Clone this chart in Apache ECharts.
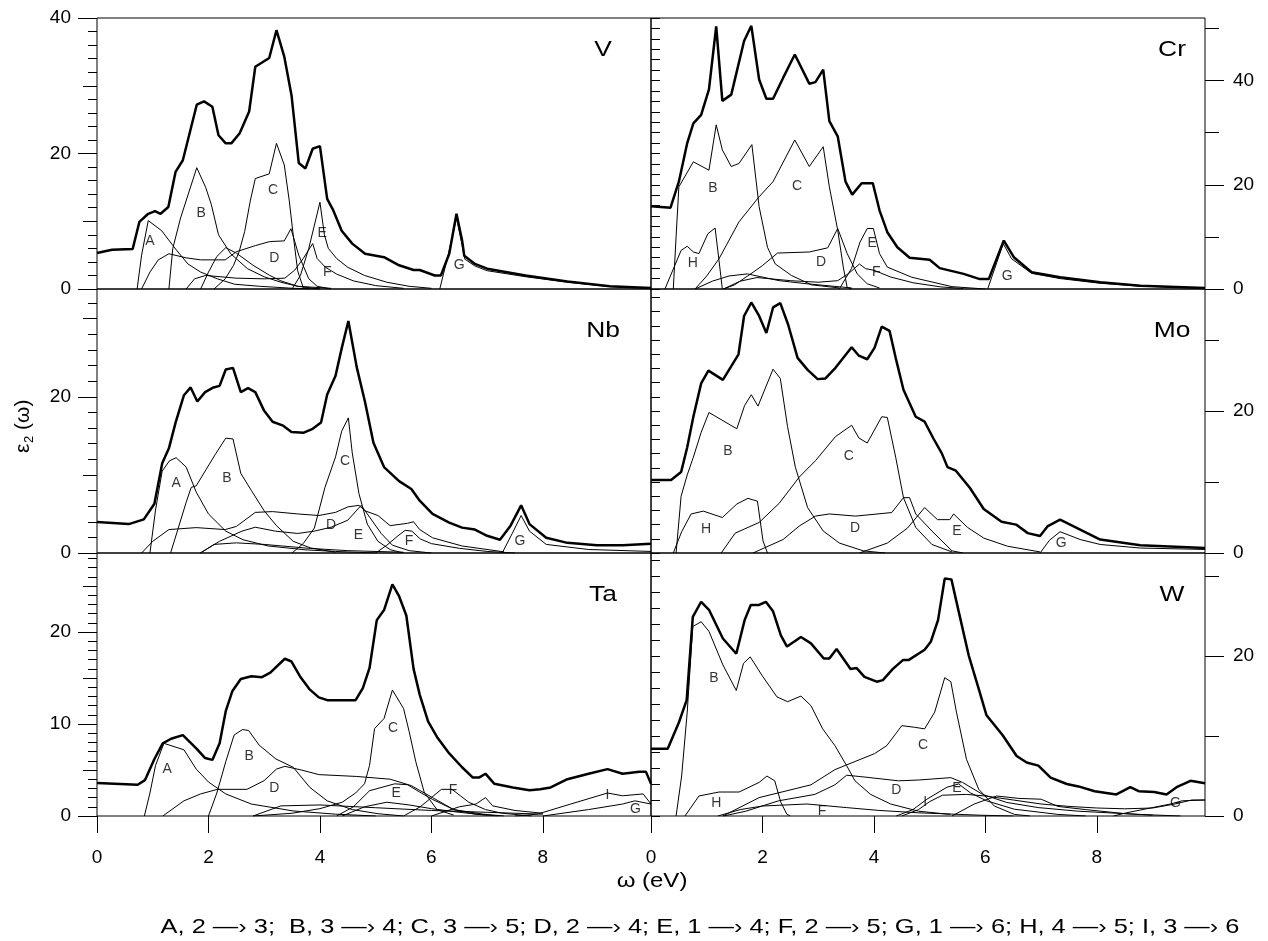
<!DOCTYPE html>
<html>
<head>
<meta charset="utf-8">
<script src="https://cdn.jsdelivr.net/npm/echarts@6/dist/echarts.min.js"></script>
<style>
html, body { margin: 0; background: #fff; }
#main { width: 1268px; height: 941px; }
</style>
</head>
<body>
<div id="main"></div>
<script>
// ---- V ----
const vTotal = [[0,5.3],[0.27,5.8],[0.64,5.9],[0.76,9.9],[0.92,11.1],[1.04,11.5],[1.14,11.1],[1.28,12.1],[1.41,17.3],[1.54,19.0],[1.79,27.2],[1.92,27.7],[2.07,26.9],[2.18,22.7],[2.31,21.5],[2.41,21.5],[2.56,23.0],[2.73,26.2],[2.84,32.8],[3.09,34.1],[3.22,38.2],[3.36,34.3],[3.49,28.6],[3.62,18.6],[3.74,17.8],[3.87,20.7],[4.0,21.1],[4.13,13.3],[4.24,11.6],[4.39,8.6],[4.58,6.7],[4.81,5.2],[5.15,4.7],[5.42,3.5],[5.68,2.8],[5.79,2.8],[6.06,2.0],[6.17,2.0],[6.32,5.2],[6.45,11.1],[6.55,7.2],[6.59,4.9],[6.78,3.7],[7.0,3.0],[7.69,2.0],[8.44,1.1],[9.2,0.4],[9.94,0.15]];
const vA = [[0.72,0],[0.8,5],[0.92,10.1],[1.16,8.6],[1.41,5.9],[1.63,3.7],[1.86,2.5],[2.16,1.5],[2.47,0.7],[2.92,0.4],[3.52,0.1],[4.0,0]];
const vB = [[1.29,0],[1.36,6],[1.5,10.5],[1.79,17.9],[1.95,15],[2.05,12.5],[2.18,8],[2.4,5.2],[2.7,3],[3.0,1.8],[3.3,1.0],[3.6,0.4],[4.2,0.1]];
const vC = [[2.1,0],[2.3,1.5],[2.45,3.5],[2.55,5.5],[2.65,8.5],[2.75,13],[2.84,16.3],[3.09,17],[3.22,21.5],[3.36,18.3],[3.45,13],[3.52,8],[3.6,2.7],[3.7,0.2],[3.8,0]];
const vD = [[0.8,0],[0.95,2.5],[1.1,4.3],[1.29,5.2],[1.6,4.6],[1.86,4.3],[2.3,4.3],[2.5,5.5],[2.84,6.4],[3.1,7.0],[3.36,7.1],[3.48,8.9],[3.62,5.0],[3.8,1.5],[3.95,0.4],[4.2,0]];
const vD2 = [[1.86,0],[2.0,2.5],[2.15,4.8],[2.31,6.1],[2.5,5.3],[2.8,3.5],[3.1,2.0],[3.3,1.2],[3.6,0.4],[4.0,0]];
const vE = [[3.5,0],[3.65,2],[3.8,6],[4.0,12.8],[4.08,8],[4.15,6],[4.3,4.5],[4.5,3.2],[4.8,2],[5.2,1],[5.6,0.4],[6.0,0.1]];
const vF = [[1.6,0],[1.75,1.5],[1.95,2.0],[2.5,1.6],[3.0,1.5],[3.37,1.6],[3.55,2.8],[3.7,4.5],[3.87,6.7],[3.95,4.5],[4.1,3.2],[4.3,2.2],[4.6,1.2],[5.0,0.5],[5.5,0.1]];
const vG = [[6.15,0],[6.3,5],[6.45,10.5],[6.55,6.5],[6.6,4.4],[6.78,3.4],[7.0,2.7],[7.7,1.8],[8.44,1.0],[9.2,0.35],[9.94,0.1]];
const vLabels = [['A',0.95,7.1],['B',1.87,11.2],['C',3.16,14.6],['D',3.18,4.6],['E',4.04,8.3],['F',4.13,2.5],['G',6.5,3.5]];

// ---- Cr ----
const crTotal = [[0,15.9],[0.35,15.6],[0.5,20.6],[0.65,28],[0.76,31.8],[0.9,33.4],[1.04,38.3],[1.17,50.4],[1.28,36.1],[1.44,37.3],[1.67,47.6],[1.8,50.5],[1.94,40.2],[2.07,36.5],[2.19,36.5],[2.37,40.5],[2.58,45],[2.84,39.4],[2.95,39.7],[3.09,42.1],[3.2,32.2],[3.35,29.3],[3.49,20.6],[3.61,18.1],[3.78,20.3],[3.98,20.3],[4.1,15.1],[4.24,10.9],[4.42,8.0],[4.64,6.0],[5.0,5.6],[5.18,4.0],[5.61,2.9],[5.9,1.9],[6.06,1.9],[6.33,9.3],[6.51,6.1],[6.83,3.2],[7.34,2.25],[8.06,1.3],[8.78,0.64],[9.94,0.2]];
const crB = [[0.4,0],[0.45,10],[0.5,19.6],[0.76,24.4],[1.04,22.8],[1.17,31.5],[1.28,26.7],[1.44,23.5],[1.58,24.1],[1.81,27.7],[1.94,15.8],[2.09,8.0],[2.23,4.8],[2.52,2.6],[2.88,0.8],[3.38,0.2]];
const crH = [[0.25,0],[0.54,7.4],[0.65,8.2],[0.76,7.1],[0.86,6.8],[1.02,10.6],[1.15,11.7],[1.22,5.5],[1.28,0]];
const crC = [[0.79,0],[1.0,2.5],[1.22,5.8],[1.58,12.9],[1.94,17.7],[2.19,20.6],[2.58,28.6],[2.84,23.5],[3.09,27.3],[3.2,19.6],[3.35,11.3],[3.45,4.2],[3.52,0.3],[3.6,0]];
const crD = [[1.3,0],[1.5,0.8],[1.83,3.2],[2.0,4.5],[2.27,6.9],[2.84,7.1],[3.17,7.9],[3.35,11.6],[3.52,6.8],[3.7,2.9],[3.88,1.0],[4.1,0.2]];
const crD2 = [[0.79,0],[1.1,1.5],[1.4,2.5],[1.73,2.9],[2.3,1.6],[2.8,1.0],[3.3,0.5],[3.6,0.2]];
const crE = [[3.38,0],[3.6,4],[3.75,9],[3.88,11.6],[3.99,11.6],[4.1,6.8],[4.24,4.2],[4.68,2.25],[5.4,0.45],[6.0,0]];
const crF = [[1.3,0],[1.6,1.5],[1.9,2.2],[2.5,1.6],[3.0,1.3],[3.35,1.6],[3.55,3],[3.74,4.8],[3.85,3.9],[4.0,3.6],[4.3,2.3],[4.7,1.2],[5.2,0.4],[5.6,0.1]];
const crG = [[6.04,0],[6.32,8.7],[6.47,5.8],[6.83,3.0],[7.34,2.0],[8.06,1.1],[8.78,0.55],[9.94,0.15]];
const crLabels = [['B',1.11,19.4],['C',2.62,19.8],['H',0.75,5.0],['D',3.05,5.2],['E',3.97,8.8],['F',4.04,3.3],['G',6.39,2.5]];

// ---- Nb ----
const nbTotal = [[0,3.98],[0.57,3.7],[0.84,4.3],[1.03,6.3],[1.17,11.5],[1.29,13.4],[1.41,16.7],[1.56,20.2],[1.68,21.2],[1.8,19.4],[1.94,20.6],[2.09,21.2],[2.2,21.4],[2.31,23.5],[2.44,23.7],[2.58,20.6],[2.71,21.1],[2.84,20.6],[3.0,18.2],[3.15,16.8],[3.34,16.3],[3.49,15.5],[3.71,15.4],[3.87,15.9],[4.02,16.7],[4.13,20.3],[4.28,22.7],[4.39,26.2],[4.51,29.7],[4.66,23.8],[4.81,19.3],[4.96,14.1],[5.15,11.0],[5.42,9.2],[5.64,8.2],[5.79,6.7],[6.02,5.0],[6.32,3.9],[6.55,3.25],[6.78,3.0],[7.0,2.2],[7.23,1.7],[7.42,3.5],[7.61,6.1],[7.76,3.7],[8.06,1.95],[8.44,1.3],[8.97,1.0],[9.43,1.0],[9.94,1.17]];
const nbA = [[0.95,0],[1.05,5.5],[1.17,10.5],[1.3,11.8],[1.42,12.2],[1.6,11.0],[1.78,7.8],[2.0,5.0],[2.31,2.8],[2.62,1.7],[3.07,0.9],[3.75,0.4],[4.28,0.2],[5,0]];
const nbB = [[1.32,0],[1.45,3],[1.6,6.5],[1.69,8.4],[1.78,8.6],[2.12,12.6],[2.31,14.7],[2.44,14.6],[2.58,10.2],[2.77,8.0],[3.0,5.4],[3.22,3.5],[3.52,1.5],[3.83,0.65],[4.28,0.1]];
const nbC = [[3.5,0],[3.7,1.2],[3.9,3.2],[4.09,8.4],[4.28,12.3],[4.39,15.6],[4.51,17.3],[4.58,12.8],[4.7,7.6],[4.85,3.7],[5.04,1.5],[5.26,0.43],[5.5,0]];
const nbD = [[0.8,0],[1.0,1.5],[1.29,3.0],[1.78,3.25],[2.3,3.0],[2.5,3.4],[2.84,5.2],[3.15,5.3],[3.6,5.0],[3.98,4.8],[4.28,5.2],[4.5,5.9],[4.7,6.1],[4.81,5.4],[5.04,4.8],[5.26,3.5],[5.57,3.8],[5.68,4.0],[5.79,3.0],[6.02,1.95],[6.55,0.9],[7.3,0.15]];
const nbE = [[1.85,0],[2.2,1.5],[2.6,2.8],[2.84,3.3],[3.2,2.8],[3.6,2.5],[3.9,2.8],[4.2,3.3],[4.5,4.2],[4.74,6.1],[4.9,4.5],[5.1,2.5],[5.3,1.0],[5.6,0.3],[6.0,0]];
const nbF = [[5.0,0],[5.2,1.0],[5.4,2.2],[5.53,2.9],[5.65,2.8],[5.8,1.8],[6.0,1.2],[6.5,0.6],[7.0,0.2],[7.5,0]];
const nbG = [[7.27,0],[7.45,2.5],[7.61,4.8],[7.76,2.8],[8.06,1.1],[8.82,0.45],[9.94,0.2]];
const nbLow = [[1.86,0],[2.1,1.1],[2.5,1.3],[3.0,1.1],[3.8,0.6],[4.5,0.3],[5.5,0.1]];
const nbLabels = [['A',1.42,9.0],['B',2.33,9.6],['C',4.45,11.8],['D',4.2,3.6],['E',4.69,2.3],['F',5.6,1.5],['G',7.59,1.5]];

// ---- Mo ----
const moTotal = [[0,10.3],[0.36,10.3],[0.54,11.4],[0.65,14.9],[0.76,19.2],[0.9,23.9],[1.03,25.7],[1.29,24.4],[1.57,28.0],[1.67,33.4],[1.8,35.3],[1.94,33.4],[2.07,31.0],[2.19,34.6],[2.32,35.2],[2.46,32.2],[2.63,27.5],[2.81,25.8],[2.99,24.5],[3.13,24.6],[3.31,26.1],[3.6,29.0],[3.73,27.8],[3.88,27.3],[4.01,28.9],[4.14,31.9],[4.28,31.3],[4.39,27.5],[4.53,23.0],[4.75,19.2],[4.91,18.5],[5.07,16.1],[5.22,14.0],[5.32,12.1],[5.47,11.6],[5.72,9.2],[5.97,6.2],[6.29,4.4],[6.55,4.0],[6.76,2.8],[6.98,2.4],[7.12,3.8],[7.34,4.7],[7.7,3.3],[8.06,1.9],[8.78,1.1],[9.94,0.7]];
const moB = [[0.45,0],[0.54,8],[0.65,11],[0.76,13.5],[0.9,17],[1.04,19.8],[1.54,17.5],[1.68,20.8],[1.8,22.3],[1.92,20.7],[2.19,25.9],[2.32,24.6],[2.45,17.8],[2.59,12.1],[2.81,6.4],[3.09,3.1],[3.38,1.4],[3.81,0.3],[4.2,0]];
const moH = [[0.4,0],[0.55,3],[0.72,5.5],[0.94,5.9],[1.28,5.0],[1.54,6.9],[1.74,7.7],[1.91,7.3],[2.01,1.7],[2.09,0]];
const moC = [[1.26,0],[1.51,2.8],[1.94,4.3],[2.3,7],[2.66,10.7],[2.95,13.0],[3.31,16.4],[3.6,18.0],[3.73,16.2],[3.88,15.5],[4.14,19.2],[4.24,19.1],[4.39,13.5],[4.53,7.8],[4.75,3.6],[5.04,1.2],[5.4,0.15]];
const moD = [[1.83,0],[2.37,1.9],[2.66,3.8],[2.95,5.2],[3.2,5.5],[3.67,5.2],[4.32,5.7],[4.53,7.8],[4.64,7.8],[4.75,5.5],[5.04,3.1],[5.4,0.3],[5.6,0]];
const moE = [[3.74,0],[4.24,1.4],[4.6,3.5],[4.91,6.4],[5.14,4.7],[5.36,4.7],[5.43,5.5],[5.68,3.6],[5.97,2.1],[6.4,0.95],[6.98,0.15]];
const moG = [[6.98,0],[7.15,1.8],[7.34,3.0],[7.7,1.9],[8.06,1.2],[8.78,0.7],[9.94,0.5]];
const moLabels = [['B',1.38,14.4],['C',3.55,13.7],['H',0.99,3.4],['D',3.66,3.5],['E',5.49,3.1],['G',7.36,1.4]];

// ---- Ta ----
const taTotal = [[0,3.6],[0.73,3.4],[0.86,3.9],[1.03,6.2],[1.18,7.9],[1.33,8.4],[1.54,8.8],[1.79,7.3],[1.94,6.3],[2.07,6.1],[2.2,7.9],[2.31,11.4],[2.43,13.6],[2.58,14.9],[2.77,15.2],[2.96,15.1],[3.11,15.6],[3.37,17.1],[3.49,16.8],[3.64,15.2],[3.81,13.8],[3.98,12.9],[4.13,12.6],[4.36,12.6],[4.64,12.6],[4.77,13.9],[4.89,16.1],[5.02,21.3],[5.15,22.4],[5.3,25.2],[5.42,23.9],[5.55,21.8],[5.68,16.0],[5.79,13.2],[5.94,10.3],[6.1,8.6],[6.32,6.8],[6.55,5.3],[6.74,4.2],[6.86,4.2],[6.97,4.6],[7.13,3.5],[7.46,3.1],[7.76,2.8],[7.95,2.9],[8.14,3.1],[8.44,4.0],[8.82,4.6],[9.16,5.1],[9.43,4.6],[9.73,4.8],[9.85,4.8],[9.94,3.5]];
const taA = [[0.85,0],[0.95,2.5],[1.05,5.5],[1.2,7.9],[1.56,7.2],[1.78,5.1],[2.0,3.7],[2.31,2.4],[2.77,1.3],[3.52,0.55],[4.28,0.2],[5,0]];
const taB = [[2.0,0],[2.15,2.5],[2.31,5.9],[2.46,8.8],[2.61,9.4],[2.72,9.3],[2.91,7.7],[3.21,6.2],[3.52,5.3],[3.82,3.1],[4.13,1.65],[4.58,0.7],[5.04,0.25],[5.5,0]];
const taC = [[2.8,0],[3.5,0.3],[4.0,0.8],[4.4,1.5],[4.64,2.5],[4.8,3.5],[4.89,5.5],[4.98,9.5],[5.15,10.6],[5.3,13.7],[5.5,11.7],[5.6,9.2],[5.72,5.9],[5.87,2.6],[6.1,0.7],[6.4,0.1]];
const taD = [[1.18,0],[1.56,1.65],[1.86,2.4],[2.16,2.9],[2.69,2.9],[3.0,3.85],[3.22,5.1],[3.37,5.4],[3.67,5.0],[3.98,4.5],[4.66,4.3],[5.26,4.0],[5.64,3.3],[6.02,2.0],[6.4,0.7],[6.93,0.2],[7.3,0]];
const taE = [[4.3,0],[4.6,1.0],[4.89,2.75],[5.34,3.5],[5.57,3.4],[5.79,2.6],[6.02,1.8],[6.4,0.7],[6.78,0.2],[7.2,0]];
const taE2 = [[4.4,0],[4.8,1.0],[5.2,1.5],[5.6,1.2],[6.0,0.8],[6.5,0.4],[7.0,0.1]];
const taF = [[5.5,0],[5.8,1.0],[6.0,2.0],[6.18,2.9],[6.37,2.9],[6.52,2.2],[6.67,1.5],[6.97,0.7],[7.27,0.3],[7.8,0]];
const taF2 = [[6.0,0],[6.5,1.0],[6.8,1.3],[6.97,2.0],[7.1,1.1],[7.5,0.6],[8.0,0.3]];
const taLow = [[2.8,0],[3.3,1.1],[4.0,1.2],[5.0,0.9],[6.0,0.6],[7.0,0.4],[8.0,0.2]];
const taI = [[7.5,0],[7.9,0.2],[8.5,1.3],[9.16,2.5],[9.43,2.2],[9.8,2.4],[9.94,1.3]];
const taG = [[8.0,0],[8.82,0.7],[9.43,1.3],[9.65,1.65],[9.94,1.3]];
const taLabels = [['A',1.26,5.1],['B',2.73,6.5],['C',5.31,9.5],['D',3.18,3.0],['E',5.37,2.5],['F',6.39,2.8],['I',9.16,2.3],['G',9.66,0.8]];

// ---- W ----
const wTotal = [[0,8.4],[0.3,8.4],[0.5,11.7],[0.64,14.5],[0.75,24.9],[0.9,26.8],[1.04,25.8],[1.29,22.2],[1.53,20.3],[1.68,24.5],[1.79,26.4],[1.94,26.4],[2.06,26.8],[2.19,25.6],[2.33,22.6],[2.44,21.2],[2.69,22.4],[2.87,21.6],[3.1,19.7],[3.2,19.7],[3.33,20.9],[3.58,18.4],[3.69,18.5],[3.83,17.4],[4.05,16.8],[4.16,17.0],[4.34,18.4],[4.52,19.5],[4.62,19.5],[4.91,20.8],[5.02,21.8],[5.15,24.5],[5.27,29.7],[5.39,29.6],[5.52,25.6],[5.7,20.1],[5.88,15.9],[6.02,12.6],[6.31,10.1],[6.56,7.5],[6.74,6.7],[6.95,6.3],[7.17,4.8],[7.46,4.0],[7.67,3.7],[7.96,3.1],[8.35,2.7],[8.6,3.6],[8.75,3.1],[9.03,3.0],[9.25,2.7],[9.43,3.6],[9.68,4.4],[9.94,4.1]];
const wB = [[0.45,0],[0.55,5],[0.65,13],[0.75,23.7],[0.9,24.3],[1.04,23.1],[1.29,18.9],[1.53,15.7],[1.66,19.1],[1.78,19.9],[2.0,17.5],[2.26,14.9],[2.45,14.3],[2.69,15.0],[2.87,13.8],[3.08,10.9],[3.3,8.8],[3.51,6.3],[3.66,4.4],[3.94,2.7],[4.3,1.5],[4.8,0.6],[5.37,0.2]];
const wH = [[0.61,0],[0.86,2.5],[1.22,3.0],[1.58,3.0],[1.94,4.2],[2.08,5.0],[2.22,4.4],[2.33,1.7],[2.44,0.2],[2.5,0]];
const wC = [[1.29,0],[1.94,2.3],[2.87,3.9],[3.3,5.8],[4.01,7.8],[4.23,8.8],[4.5,11.3],[4.73,11.1],[4.91,10.9],[5.09,13.0],[5.27,17.3],[5.38,16.8],[5.48,13.0],[5.66,7.1],[5.88,3.35],[6.16,1.25],[6.52,0.2],[6.8,0]];
const wD = [[1.3,0],[1.7,0.6],[2.29,1.9],[2.94,2.7],[3.3,3.9],[3.51,5.1],[3.8,4.9],[4.44,4.4],[4.8,4.5],[5.38,4.8],[5.59,4.2],[5.95,2.7],[6.38,1.7],[6.95,1.05],[7.67,0.6],[8.75,0.2],[9.5,0]];
const wE = [[4.4,0],[4.7,0.8],[4.95,2.1],[5.31,3.6],[5.52,4.0],[5.73,2.9],[6.02,1.9],[6.52,0.85],[7.3,0.2],[7.8,0]];
const wE2 = [[5.4,0],[5.8,1.5],[6.2,2.5],[6.6,2.2],[7.0,2.1],[7.3,1.2],[7.8,0.8],[8.5,0.3],[9.0,0.1]];
const wI = [[4.5,0],[4.8,0.8],[5.0,1.8],[5.23,2.6],[5.66,2.7],[6.0,2.5],[6.5,2.0],[7.0,1.5],[7.5,1.2],[8.0,1.0],[8.5,0.9],[9.0,1.0],[9.4,1.5],[9.7,2.0],[9.94,2.0]];
const wF = [[1.2,0],[1.6,0.8],[2.0,1.25],[2.8,1.5],[3.51,1.05],[4.08,0.7],[4.8,0.4],[5.9,0.1],[6.5,0]];
const wG = [[8.3,0],[8.53,0.4],[9.32,1.5],[9.53,1.9],[9.94,2.0]];
const wLabels = [['B',1.13,17.2],['C',4.88,8.9],['H',1.17,1.6],['D',4.4,3.2],['E',5.49,3.5],['F',3.07,0.6],['I',4.92,1.75],['G',9.41,1.6]];

const footText = 'A, 2 \u2014\u203A 3;  B, 3 \u2014\u203A 4; C, 3 \u2014\u203A 5; D, 2 \u2014\u203A 4; E, 1 \u2014\u203A 4; F, 2 \u2014\u203A 5; G, 1 \u2014\u203A 6; H, 4 \u2014\u203A 5; I, 3 \u2014\u203A 6';

const FONT = '"Liberation Sans", Arial, Helvetica, sans-serif';
const X_MAX = 9.94;
const STRETCH = 1.2; // the original figure is a little wider than its fonts

// panel layout: col 0/1, row 0..2
const panels = [
    { name: 'V',  col: 0, row: 0, yMax: 40,   major: 20, mid: 10, minor: 2, total: vTotal,  parts: [vA, vB, vC, vD, vD2, vE, vF, vG], labels: vLabels },
    { name: 'Cr', col: 1, row: 0, yMax: 52,   major: 20, mid: 10, minor: 2, total: crTotal, parts: [crB, crH, crC, crD, crD2, crE, crF, crG], labels: crLabels },
    { name: 'Nb', col: 0, row: 1, yMax: 33.8, major: 20, mid: 10, minor: 2, total: nbTotal, parts: [nbA, nbB, nbC, nbD, nbE, nbF, nbG, nbLow], labels: nbLabels },
    { name: 'Mo', col: 1, row: 1, yMax: 37.2, major: 20, mid: 10, minor: 2, total: moTotal, parts: [moB, moH, moC, moD, moE, moG], labels: moLabels },
    { name: 'Ta', col: 0, row: 2, yMax: 28.6, major: 10, mid: 5,  minor: 1, total: taTotal, parts: [taA, taB, taC, taD, taE, taE2, taF, taF2, taLow, taI, taG], labels: taLabels },
    { name: 'W',  col: 1, row: 2, yMax: 32.9, major: 20, mid: 10, minor: 2, total: wTotal,  parts: [wB, wH, wC, wD, wE, wE2, wI, wF, wG], labels: wLabels }
];
const colLeft = [97, 651];
const colWidth = 554;
const rowTop = [18, 289, 553];
const rowHeight = [271, 264, 263];
const nameX = [603, 1172];
const nameY = [50, 331, 595];

function stepsUpTo(max, step) {
    const out = [];
    for (let v = 0; v <= max + 1e-9; v += step) out.push(Math.round(v * 1000) / 1000);
    return out;
}
function multipleLabel(step) {
    return function (v) {
        const r = Math.round(v);
        return (Math.abs(v - r) < 1e-6 && r % step === 0) ? String(r) : '';
    };
}

const grids = [], xAxes = [], yAxes = [], series = [], graphics = [];

panels.forEach((p, i) => {
    const bottom = p.row === 2;
    const side = p.col === 0 ? 'left' : 'right';
    grids.push({
        left: colLeft[p.col], top: rowTop[p.row], width: colWidth, height: rowHeight[p.row],
        show: true, borderColor: '#000', borderWidth: 1, backgroundColor: 'transparent'
    });
    xAxes.push({
        gridIndex: i, type: 'value', min: 0, max: X_MAX, interval: 2,
        axisLine: { show: false }, splitLine: { show: false },
        axisTick: { show: bottom, length: 17, inside: false, lineStyle: { color: '#000', width: 1 }, customValues: [0, 2, 4, 6, 8] },
        axisLabel: {
            show: bottom, margin: 32, color: '#000', fontSize: 19, fontFamily: FONT,
            customValues: [0, 2, 4, 6, 8], formatter: multipleLabel(2)
        }
    });
    // three tick layers: minor, middle, major (labelled)
    const tickSets = [[p.minor, 9], [p.mid, 14], [p.major, 19]];
    tickSets.forEach((t, k) => {
        const vals = stepsUpTo(p.yMax, t[0]);
        yAxes.push({
            gridIndex: i, type: 'value', position: side, min: 0, max: p.yMax, interval: t[0],
            axisLine: { show: false }, splitLine: { show: false },
            axisTick: { show: true, length: t[1], inside: false, lineStyle: { color: '#000', width: 1 }, customValues: vals },
            axisLabel: {
                show: k === 2, margin: side === 'left' ? 26 : 28, color: '#000', fontSize: 19, fontFamily: FONT,
                customValues: vals, formatter: multipleLabel(p.major)
            }
        });
    });
    const yIdx = i * 3 + 2;
    p.parts.forEach(d => {
        series.push({
            type: 'line', xAxisIndex: i, yAxisIndex: yIdx, data: d, symbol: 'none',
            lineStyle: { color: '#000', width: 1 }, silent: true, z: 2
        });
    });
    series.push({
        type: 'line', xAxisIndex: i, yAxisIndex: yIdx, data: p.total, symbol: 'none',
        lineStyle: { color: '#000', width: 2.5 }, silent: true, z: 3
    });
    series.push({
        type: 'scatter', xAxisIndex: i, yAxisIndex: yIdx, symbolSize: 1, z: 4,
        itemStyle: { color: 'rgba(0,0,0,0)' },
        data: p.labels.map(l => ({ name: l[0], value: [l[1], l[2]] })),
        label: { show: true, position: 'inside', formatter: '{b}', color: '#000', fontSize: 14, fontFamily: FONT }
    });
    graphics.push({
        type: 'text', x: nameX[p.col], y: nameY[p.row], scaleX: STRETCH,
        style: { text: p.name, fill: '#000', font: '22px ' + FONT, align: 'center', verticalAlign: 'middle' }
    });
});

// axis titles and footer
graphics.push({
    type: 'group', x: 23, y: 423, rotation: Math.PI / 2,
    children: [
        { type: 'text', x: -30, y: 0, style: { text: '\u03B5', fill: '#000', font: '21px ' + FONT, align: 'left', verticalAlign: 'middle' } },
        { type: 'text', x: -20, y: 6, style: { text: '2', fill: '#000', font: '13px ' + FONT, align: 'left', verticalAlign: 'middle' } },
        { type: 'text', x: -7, y: 0, style: { text: '(\u03C9)', fill: '#000', font: '21px ' + FONT, align: 'left', verticalAlign: 'middle' } }
    ]
});
graphics.push({
    type: 'text', x: 652, y: 881, scaleX: STRETCH,
    style: { text: '\u03C9 (eV)', fill: '#000', font: '20px ' + FONT, align: 'center', verticalAlign: 'middle' }
});
graphics.push({
    type: 'text', x: 700, y: 927, scaleX: 1.21,
    style: { text: footText, fill: '#000', font: '21px ' + FONT, align: 'center', verticalAlign: 'middle' }
});

const myChart = echarts.init(document.getElementById('main'));
myChart.setOption({
    animation: false,
    backgroundColor: '#fff',
    grid: grids,
    xAxis: xAxes,
    yAxis: yAxes,
    series: series,
    graphic: graphics
});
</script>
</body>
</html>
